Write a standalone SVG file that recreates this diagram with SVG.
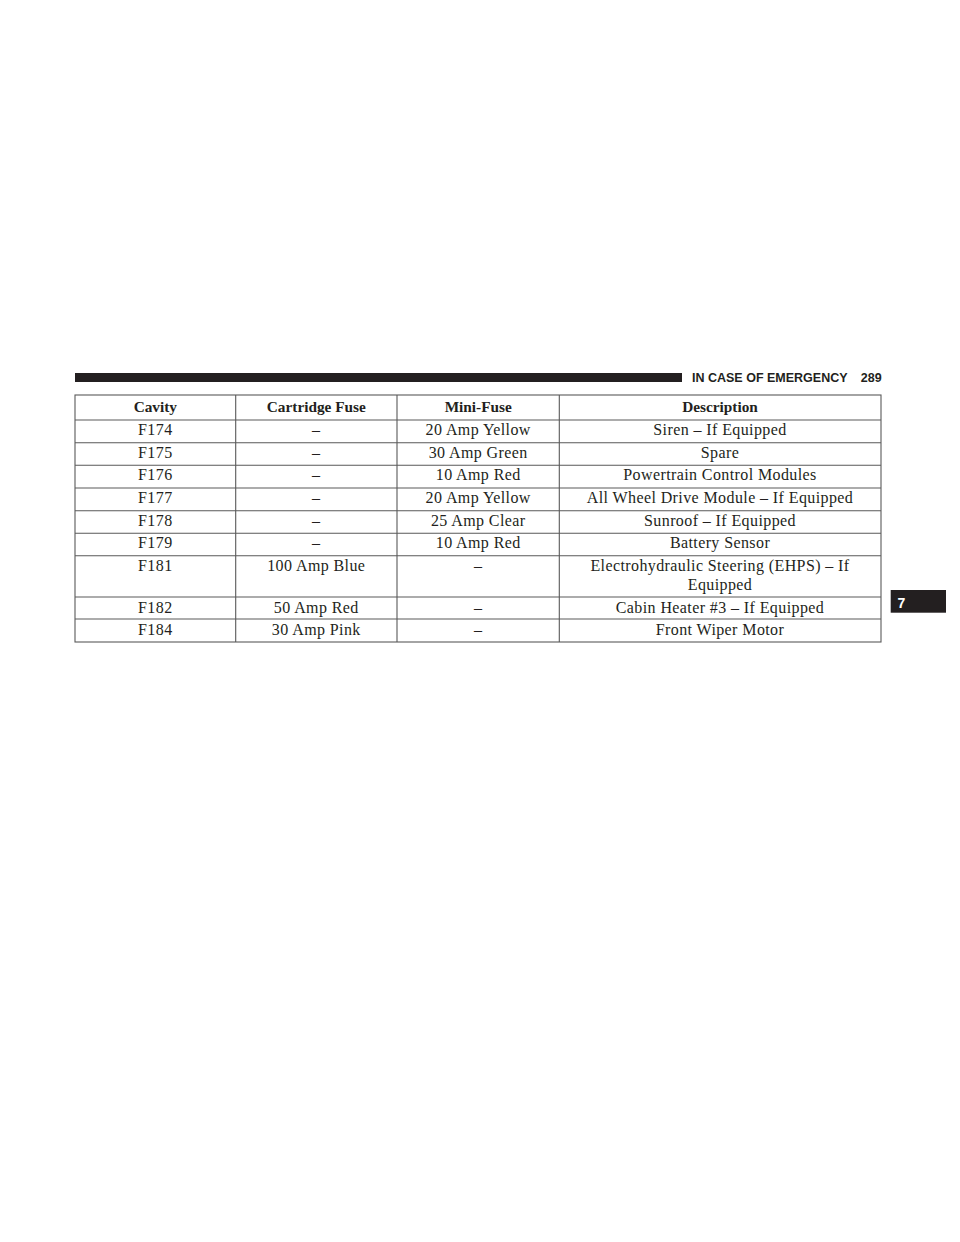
<svg xmlns="http://www.w3.org/2000/svg" width="960" height="1242" viewBox="0 0 960 1242">
<style>
.b{font-family:"Liberation Serif","Times New Roman",serif;font-size:16px;letter-spacing:0.4px;fill:#231f20;text-anchor:middle}
.h{font-family:"Liberation Serif","Times New Roman",serif;font-size:15.3px;font-weight:bold;fill:#231f20;text-anchor:middle}
.g{stroke:#5a5a5a;stroke-width:1.1;fill:none}
.s{font-family:"Liberation Sans",Arial,sans-serif;font-weight:bold;font-size:12.5px;fill:#231f20}
</style>
<rect width="960" height="1242" fill="#fff"/>
<g id="page-header">
<rect x="75" y="373" width="607" height="9" fill="#231f20"/>
<text class="s" x="692" y="381.5">IN CASE OF EMERGENCY</text>
<text class="s" x="881.7" y="381.5" text-anchor="end">289</text>
</g>
<g id="grid" class="g">
<rect x="75" y="395" width="806" height="247"/>
<path d="M75 420H881M75 442.7H881M75 465.3H881M75 488H881M75 510.7H881M75 533.3H881M75 555.7H881M75 597H881M75 619H881"/>
<path d="M235.7 395V642M397 395V642M559.3 395V642"/>
</g>
<g id="header-row">
<text class="h" x="155.3" y="412.3">Cavity</text>
<text class="h" x="316.3" y="412.3">Cartridge Fuse</text>
<text class="h" x="478.2" y="412.3">Mini-Fuse</text>
<text class="h" x="720" y="412.3">Description</text>
</g>
<g id="row-F174">
<text class="b" x="155.3" y="435">F174</text><text class="b" x="316.3" y="435">–</text><text class="b" x="478.2" y="435">20 Amp Yellow</text><text class="b" x="720" y="435">Siren – If Equipped</text>
</g>
<g id="row-F175">
<text class="b" x="155.3" y="457.7">F175</text><text class="b" x="316.3" y="457.7">–</text><text class="b" x="478.2" y="457.7">30 Amp Green</text><text class="b" x="720" y="457.7">Spare</text>
</g>
<g id="row-F176">
<text class="b" x="155.3" y="480.3">F176</text><text class="b" x="316.3" y="480.3">–</text><text class="b" x="478.2" y="480.3">10 Amp Red</text><text class="b" x="720" y="480.3">Powertrain Control Modules</text>
</g>
<g id="row-F177">
<text class="b" x="155.3" y="503">F177</text><text class="b" x="316.3" y="503">–</text><text class="b" x="478.2" y="503">20 Amp Yellow</text><text class="b" x="720" y="503">All Wheel Drive Module – If Equipped</text>
</g>
<g id="row-F178">
<text class="b" x="155.3" y="525.7">F178</text><text class="b" x="316.3" y="525.7">–</text><text class="b" x="478.2" y="525.7">25 Amp Clear</text><text class="b" x="720" y="525.7">Sunroof – If Equipped</text>
</g>
<g id="row-F179">
<text class="b" x="155.3" y="548.3">F179</text><text class="b" x="316.3" y="548.3">–</text><text class="b" x="478.2" y="548.3">10 Amp Red</text><text class="b" x="720" y="548.3">Battery Sensor</text>
</g>
<g id="row-F181">
<text class="b" x="155.3" y="570.5">F181</text><text class="b" x="316.3" y="570.5">100 Amp Blue</text><text class="b" x="478.2" y="570.5">–</text><text class="b" x="720" y="570.5">Electrohydraulic Steering (EHPS) – If</text><text class="b" x="720" y="589.5">Equipped</text>
</g>
<g id="row-F182">
<text class="b" x="155.3" y="612.5">F182</text><text class="b" x="316.3" y="612.5">50 Amp Red</text><text class="b" x="478.2" y="612.5">–</text><text class="b" x="720" y="612.5">Cabin Heater #3 – If Equipped</text>
</g>
<g id="row-F184">
<text class="b" x="155.3" y="635">F184</text><text class="b" x="316.3" y="635">30 Amp Pink</text><text class="b" x="478.2" y="635">–</text><text class="b" x="720" y="635">Front Wiper Motor</text>
</g>
<g id="tab-7">
<rect x="890.7" y="590" width="55.3" height="22.7" fill="#231f20"/>
<text x="897.5" y="608" font-family="'Liberation Sans',Arial,sans-serif" font-weight="bold" font-size="14" fill="#fff">7</text>
</g>
</svg>
